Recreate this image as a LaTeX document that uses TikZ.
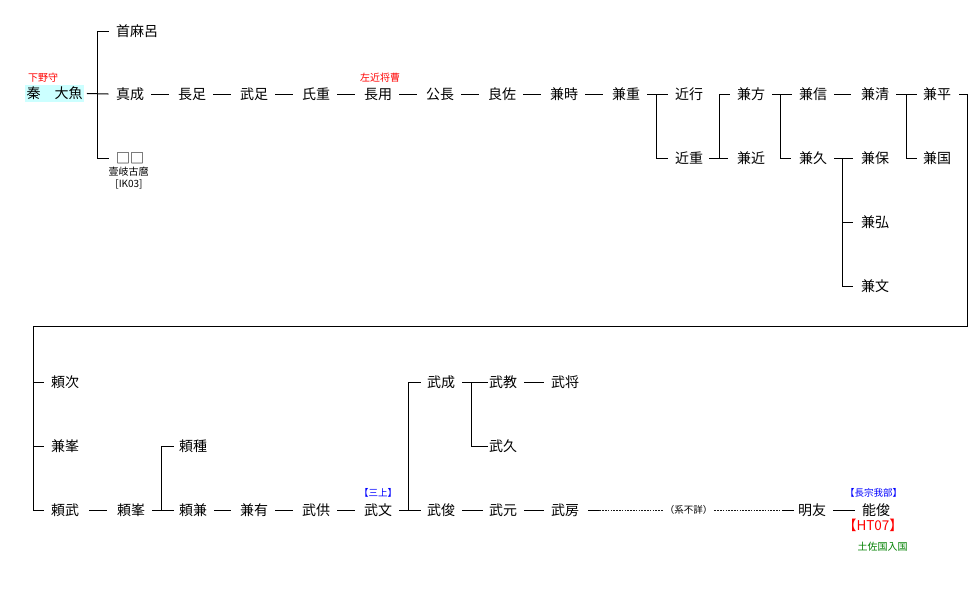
\documentclass[tikz,border=0pt]{standalone}
\usepackage{fontspec}
\newfontfamily\jp{Noto Sans CJK JP}
\definecolor{cyanbg}{HTML}{CCFFFF}
\definecolor{dgreen}{HTML}{008000}
\tikzset{
  pn/.style={anchor=west, inner sep=0pt, font=\jp\fontsize{14}{14}\selectfont},
  sm/.style={inner sep=0pt, font=\jp\fontsize{10}{10}\selectfont},
  lab/.style={inner sep=0pt, font=\jp\fontsize{9.5}{9.5}\selectfont},
  ln/.style={line width=1pt, line cap=rect},
  dl/.style={line width=0.9pt, dash pattern=on 1.6pt off 1.2pt, black!90}
}
\begin{document}
\begin{tikzpicture}[x=1pt,y=-1pt]
\useasboundingbox (0,0) rectangle (973,600);
% ---------- upper section ----------
\node[pn, fill=cyanbg, inner xsep=1.5pt, minimum height=17pt] (ouo) at (25,93.5) {秦　大魚};
\node[sm, red, anchor=west] (shimo) at (28,78) {下野守};
\node[pn] (kmr) at (116,31) {首麻呂};
\node[pn] (mak) at (116,94) {真成};
\node[pn] (sq) at (116,158) {□□};
\node[sm] (iki) at (128.5,172) {壹岐古麿};
\node[sm] (ik) at (129,184.5) {[IK03]};
\node[pn] (nagat) at (178,94) {長足};
\node[pn] (takt) at (240,94) {武足};
\node[pn] (ujs) at (302,94) {氏重};
\node[pn] (nagm) at (364,94) {長用};
\node[sm, red, anchor=west] (sako) at (360,78) {左近将曹};
\node[pn] (kimn) at (426,94) {公長};
\node[pn] (yosk) at (488,94) {良佐};
\node[pn] (kant) at (550,94) {兼時};
\node[pn] (kans) at (612,94) {兼重};
\node[pn] (chky) at (675,94) {近行};
\node[pn] (chks) at (675,158) {近重};
\node[pn] (kank) at (737,94) {兼方};
\node[pn] (kanc) at (737,158) {兼近};
\node[pn] (kanb) at (799,94) {兼信};
\node[pn] (kanh) at (799,158) {兼久};
\node[pn] (kaky) at (861,94) {兼清};
\node[pn] (kayu) at (861,158) {兼保};
\node[pn] (kahr) at (861,222) {兼弘};
\node[pn] (kafm) at (861,286) {兼文};
\node[pn] (kahi) at (923,94) {兼平};
\node[pn] (kaku) at (923,158) {兼国};
% connectors upper
\draw[ln] ([xshift=3pt]ouo.east) -- ([xshift=-8pt]mak.west);
\draw[ln] ([xshift=-8pt]kmr.west) -- ([xshift=-19pt]kmr.west) -- ([xshift=-19pt]sq.west) -- ([xshift=-8pt]sq.west);
\draw[ln] ([xshift=7pt]mak.east) -- ([xshift=-10pt]nagat.west);
\draw[ln] ([xshift=7pt]nagat.east) -- ([xshift=-10pt]takt.west);
\draw[ln] ([xshift=7pt]takt.east) -- ([xshift=-10pt]ujs.west);
\draw[ln] ([xshift=7pt]ujs.east) -- ([xshift=-10pt]nagm.west);
\draw[ln] ([xshift=7pt]nagm.east) -- ([xshift=-10pt]kimn.west);
\draw[ln] ([xshift=7pt]kimn.east) -- ([xshift=-10pt]yosk.west);
\draw[ln] ([xshift=7pt]yosk.east) -- ([xshift=-10pt]kant.west);
\draw[ln] ([xshift=7pt]kant.east) -- ([xshift=-10pt]kans.west);
\draw[ln] ([xshift=7pt]kans.east) -- ([xshift=-8pt]chky.west);
\draw[ln] ([xshift=-19pt]chky.west) -- ([xshift=-19pt]chks.west) -- ([xshift=-8pt]chks.west);
\draw[ln] ([xshift=6pt]chks.east) -- ([xshift=-10pt]kanc.west);
\draw[ln] ([xshift=-8pt]kank.west) -- ([xshift=-18pt]kank.west) -- ([xshift=-18pt]kanc.west);
\draw[ln] ([xshift=7pt]kank.east) -- ([xshift=-8pt]kanb.west);
\draw[ln] ([xshift=-19pt]kanb.west) -- ([xshift=-19pt]kanh.west) -- ([xshift=-9pt]kanh.west);
\draw[ln] ([xshift=7pt]kanb.east) -- ([xshift=-11pt]kaky.west);
\draw[ln] ([xshift=7pt]kanh.east) -- ([xshift=-9pt]kayu.west);
\draw[ln] ([xshift=-19pt]kayu.west) -- ([xshift=-19pt]kafm.west) -- ([xshift=-9pt]kafm.west);
\draw[ln] ([xshift=-19pt]kahr.west) -- ([xshift=-9pt]kahr.west);
\draw[ln] ([xshift=7pt]kaky.east) -- ([xshift=-7pt]kahi.west);
\draw[ln] ([xshift=-17pt]kahi.west) -- ([xshift=-17pt]kaku.west) -- ([xshift=-7pt]kaku.west);
% ---------- lower section ----------
\node[pn] (yrtg) at (51,382) {頼次};
\node[pn] (kamn) at (51,446) {兼峯};
\node[pn] (yrtk) at (51,510) {頼武};
\node[pn] (yrmn) at (117,510) {頼峯};
\node[pn] (yrtn) at (179,446) {頼種};
\node[pn] (yrkn) at (179,510) {頼兼};
\node[pn] (kaar) at (240,510) {兼有};
\node[pn] (ttom) at (302,510) {武供};
\node[pn] (tfum) at (364,510) {武文};
\node[lab, blue, anchor=west] (mika) at (359,493) {【三上】};
\node[pn] (tsig) at (427,382) {武成};
\node[pn] (ttos) at (427,510) {武俊};
\node[pn] (tnor) at (489,382) {武教};
\node[pn] (thsa) at (489,446) {武久};
\node[pn] (tmot) at (489,510) {武元};
\node[pn] (tmas) at (551,382) {武将};
\node[pn] (tfus) at (551,510) {武房};
\node[lab] (fush) at (688.5,510) {（系不詳）};
\node[pn] (aktm) at (798,510) {明友};
\node[pn] (ytos) at (862,510) {能俊};
\node[lab, blue] (chsk) at (873.5,493) {【長宗我部】};
\node[inner sep=0pt, red, font=\jp\fontsize{13.5}{13.5}\selectfont] (ht) at (873,525) {【HT07】};
\node[sm, dgreen] (tosa) at (882.5,547) {土佐国入国};
% connectors lower
\coordinate (rt) at (967,326);
\coordinate (lt) at (33,326);
\draw[ln] ([xshift=8pt]kahi.east) -| (rt) -- (lt) |- ([xshift=-8pt]yrtk.west);
\draw[ln] ([xshift=-18pt]yrtg.west) -- ([xshift=-8pt]yrtg.west);
\draw[ln] ([xshift=-18pt]kamn.west) -- ([xshift=-8pt]kamn.west);
\draw[ln] ([xshift=10pt]yrtk.east) -- ([xshift=-11pt]yrmn.west);
\draw[ln] ([xshift=7pt]yrmn.east) -- ([xshift=-6pt]yrkn.west);
\draw[ln] ([xshift=-6pt]yrtn.west) -- ([xshift=-18pt]yrtn.west) -- ([xshift=-18pt]yrkn.west);
\draw[ln] ([xshift=7pt]yrkn.east) -- ([xshift=-10pt]kaar.west);
\draw[ln] ([xshift=7pt]kaar.east) -- ([xshift=-10pt]ttom.west);
\draw[ln] ([xshift=7pt]ttom.east) -- ([xshift=-10pt]tfum.west);
\draw[ln] ([xshift=7pt]tfum.east) -- ([xshift=-7pt]ttos.west);
\draw[ln] ([xshift=-7pt]tsig.west) -- ([xshift=-19pt]tsig.west) -- ([xshift=-19pt]ttos.west);
\draw[ln] ([xshift=7pt]tsig.east) -- ([xshift=-2pt]tnor.west);
\draw[ln] ([xshift=-18pt]tnor.west) -- ([xshift=-18pt]thsa.west) -- ([xshift=-2pt]thsa.west);
\draw[ln] ([xshift=7pt]tnor.east) -- ([xshift=-8pt]tmas.west);
\draw[ln] ([xshift=7pt]ttos.east) -- ([xshift=-7pt]tmot.west);
\draw[ln] ([xshift=7pt]tmot.east) -- ([xshift=-8pt]tfus.west);
\draw[ln] ([xshift=9pt]tfus.east) -- ([xshift=20pt]tfus.east);
\draw[dl] ([xshift=20pt]tfus.east) -- ([xshift=-2pt]fush.west);
\draw[dl] ([xshift=2pt]fush.east) -- ([xshift=-18pt]aktm.west);
\draw[ln] ([xshift=-16pt]aktm.west) -- ([xshift=-5pt]aktm.west);
\draw[ln] ([xshift=7pt]aktm.east) -- ([xshift=-8pt]ytos.west);
\end{tikzpicture}
\end{document}
